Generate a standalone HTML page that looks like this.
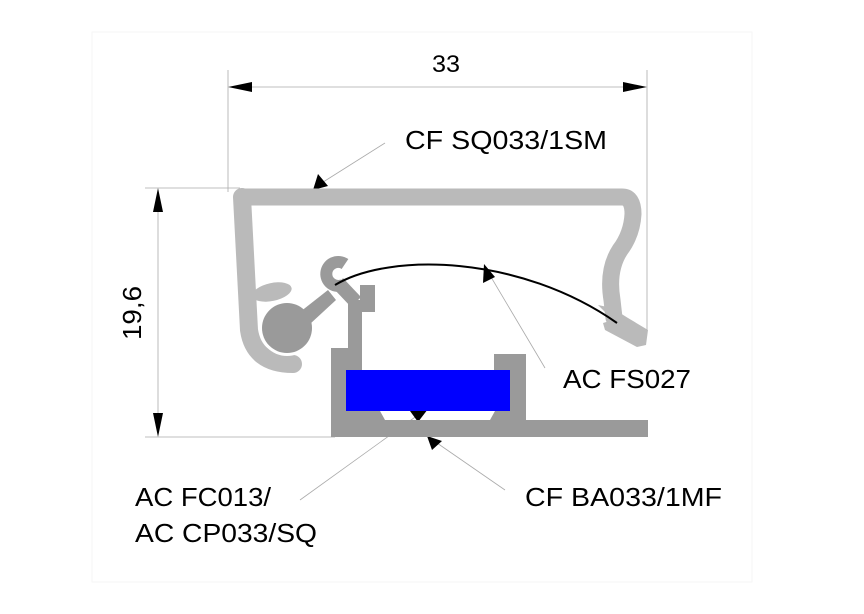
<!DOCTYPE html>
<html><head><style>
html,body{margin:0;padding:0;background:#fff;}
svg{display:block;}
text{font-family:"Liberation Sans",Arial,sans-serif;fill:#000;}
</style></head><body>
<svg width="864" height="614" viewBox="0 0 864 614" xmlns="http://www.w3.org/2000/svg">
<rect width="864" height="614" fill="#fff"/>
<rect x="92" y="32" width="660" height="550" fill="none" stroke="#f6f6f6" stroke-width="1"/>

<g stroke="#aaa" stroke-width="0.8" fill="none">
<line x1="228" y1="70" x2="228" y2="192"/>
<line x1="647" y1="70" x2="647" y2="330"/>
<line x1="145" y1="188" x2="240" y2="188"/>
<line x1="145" y1="437" x2="335" y2="437"/>
<line x1="240" y1="87" x2="635" y2="87"/>
<line x1="158" y1="200" x2="158" y2="425"/>
<line x1="385" y1="143" x2="320" y2="184"/>
<line x1="545" y1="368" x2="488" y2="272"/>
<line x1="300" y1="500" x2="418" y2="415"/>
<line x1="505" y1="490" x2="437" y2="443"/>
</g>
<g fill="#000">
<polygon points="228,87 252,82 252,92"/>
<polygon points="647,87 623,82 623,92"/>
<polygon points="158,188 153,212 163,212"/>
<polygon points="158,437 153,413 163,413"/>
<polygon points="313,190 318,174 328,186"/>
<polygon points="484,264 483,283 495,277"/>
<polygon points="428,409 410,411 418,422"/>
<polygon points="427,436 432,450 442,441"/>
</g>

<g fill="none" stroke="#bababa" stroke-linecap="round" stroke-linejoin="round">
<path stroke-width="17" d="M242,197 L622,197 Q633,197 633,214 Q632,234 620,250 Q607,270 612,300 L614,318"/>
<path stroke-width="18" d="M242,197 L249,330 Q254,364 293,364"/>
</g>
<polygon fill="#bababa" points="598,305 612,308 628,318 648,330 646,345 637,347 605,330 603,323 613,320"/>
<ellipse cx="272" cy="292" rx="20" ry="9" transform="rotate(-12 272 292)" fill="#bababa"/>
<circle cx="287" cy="328" r="28" fill="#fff"/>
<g fill="#9a9a9a">
<circle cx="287" cy="328" r="25"/>
<polygon points="300,312 328,290 336,300 310,324"/>
<rect x="360" y="285" width="15" height="27"/>
<path d="M331,437 L331,348 L348,348 L348,300 L362,300 L362,370 L346,370 L346,411 L380,411 L385,420 L490,420 L495,411 L510,411 L510,370 L494,370 L494,354 L526,354 L526,420 L648,420 L648,437 Z"/>
</g>
<g fill="none" stroke="#9a9a9a" stroke-width="12">
<path d="M345,264 A12,12 0 1 0 343,285"/>
<path d="M338,283 L356,302" stroke-width="14"/>
</g>
<rect x="346" y="370" width="164" height="41" fill="#0000ff"/>
<path d="M335,285 C390,252 520,255 617,323" fill="none" stroke="#000" stroke-width="2"/>

<text x="432" y="72" font-size="24" textLength="28" lengthAdjust="spacingAndGlyphs">33</text>
<text x="405" y="149" font-size="26" textLength="202" lengthAdjust="spacingAndGlyphs">CF SQ033/1SM</text>
<text x="563" y="388" font-size="26" textLength="128" lengthAdjust="spacingAndGlyphs">AC FS027</text>
<text x="525" y="506" font-size="26" textLength="197" lengthAdjust="spacingAndGlyphs">CF BA033/1MF</text>
<text x="135" y="506" font-size="26" textLength="136" lengthAdjust="spacingAndGlyphs">AC FC013/</text>
<text x="135" y="542" font-size="26" textLength="182" lengthAdjust="spacingAndGlyphs">AC CP033/SQ</text>
<text x="0" y="0" font-size="26" textLength="54" lengthAdjust="spacingAndGlyphs" transform="translate(141,340) rotate(-90)">19,6</text>
</svg>
</body></html>
